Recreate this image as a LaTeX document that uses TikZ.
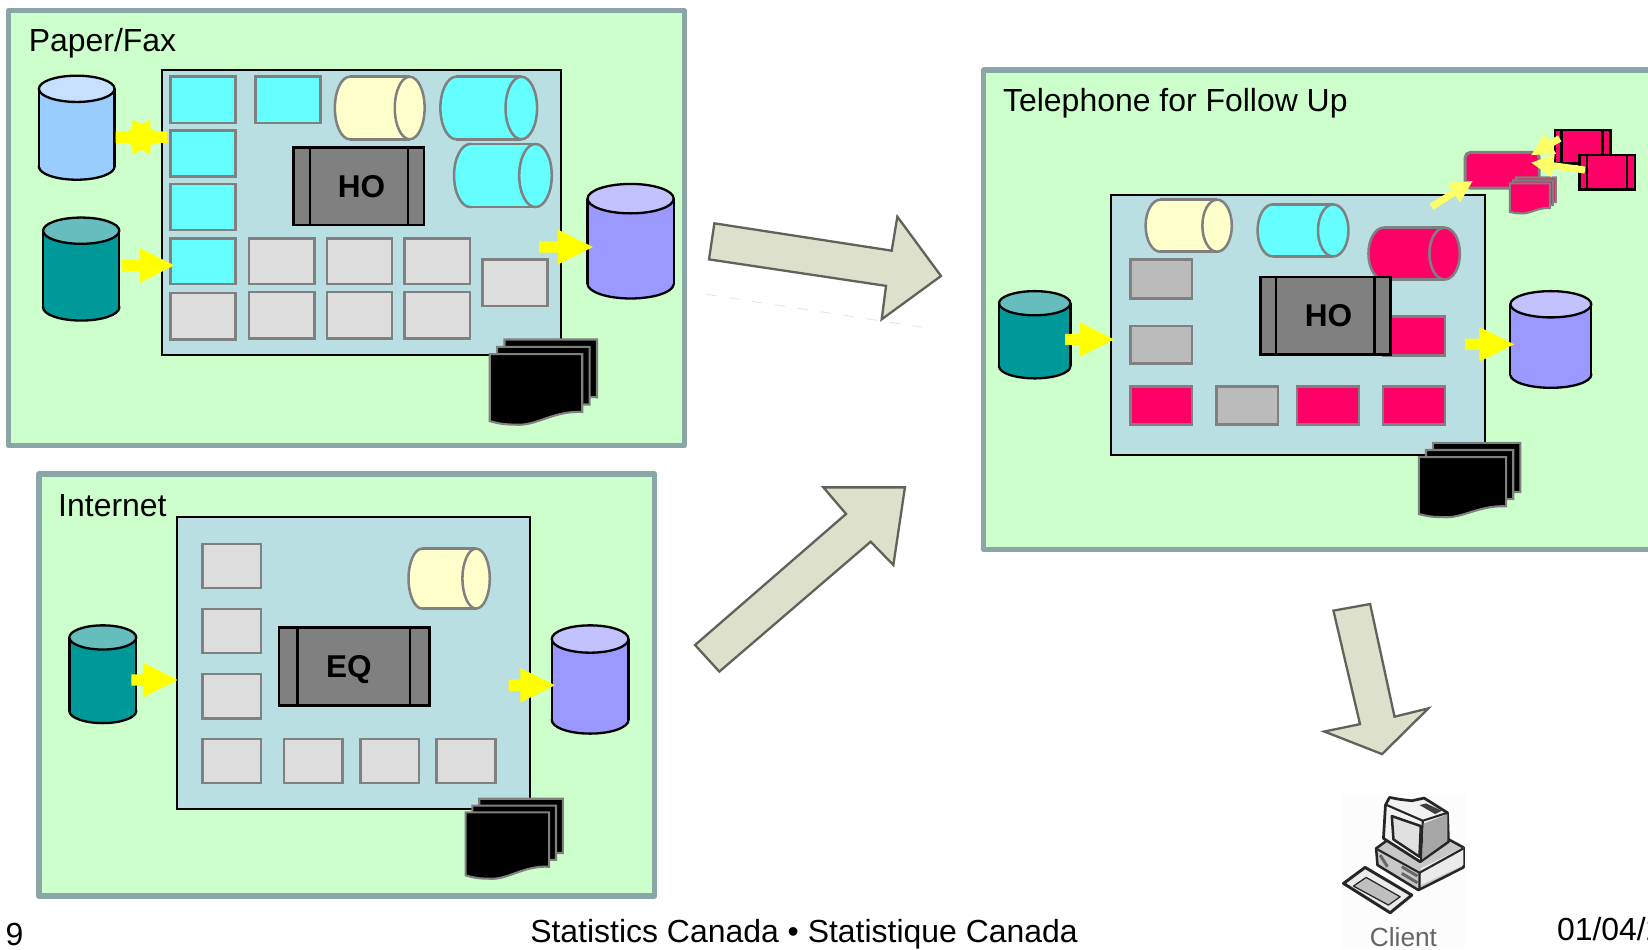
\documentclass[tikz,border=0pt]{standalone}
\usepackage{fontspec}
\setmainfont{Liberation Sans}
\usetikzlibrary{calc,fit}
\definecolor{panelfill}{HTML}{CCFFCC}
\definecolor{panelline}{HTML}{8AA6A6}
\definecolor{innerfill}{HTML}{B9DFE2}
\definecolor{sqline}{HTML}{808080}
\definecolor{lgray}{HTML}{DDDDDD}
\definecolor{mgray}{HTML}{BBBBBB}
\definecolor{cyanfill}{HTML}{66FFFF}
\definecolor{creamfill}{HTML}{FFFFCC}
\definecolor{pinkfill}{HTML}{FF0066}
\definecolor{blue1}{HTML}{99CCFF}
\definecolor{blue2}{HTML}{C6E0FF}
\definecolor{teal1}{HTML}{009999}
\definecolor{teal2}{HTML}{66BDBD}
\definecolor{purp1}{HTML}{9999FF}
\definecolor{purp2}{HTML}{C2C2FF}
\definecolor{tanfill}{HTML}{DDE1CB}
\definecolor{tanline}{HTML}{5F645A}
\definecolor{softyellow}{HTML}{FFFF66}
\definecolor{pureyellow}{HTML}{FFFF00}
\tikzset{
  panelbox/.style={fill=panelfill,draw=panelline,line width=2.5pt,line join=round,inner sep=0pt},
  innerbox/.style={fill=innerfill,draw=black,line width=1pt,inner sep=0pt},
  sqbase/.style={draw=sqline,line width=1.2pt,inner sep=0pt},
  graysq/.style={sqbase,fill=lgray},
  midsq/.style={sqbase,fill=mgray},
  cyansq/.style={sqbase,fill=cyanfill},
  pinksq/.style={sqbase,fill=pinkfill},
  procbox/.style={fill=sqline,draw=black,line width=1.3pt,inner sep=0pt},
  smallproc/.style={fill=pinkfill,draw=black,line width=1.3pt,inner sep=0pt},
  boxlabel/.style={font=\fontsize{15}{18}\bfseries\selectfont,inner sep=0pt},
  txt/.style={font=\fontsize{15.2}{18}\selectfont,inner sep=0pt,text=black},
  bigarrow/.style={fill=tanfill,draw=tanline,line width=1.1pt,line join=miter},
  docsheet/.style={fill=black,draw=sqline,line width=1pt},
  pinksheet/.style={fill=pinkfill,draw=sqline,line width=1pt},
  iconline/.style={draw=black!85,line width=1pt,line join=round},
}
% name x1 y1 x2 y2 style
\newcommand\sq[6]{\node[#6,fit={(#2,#3)(#4,#5)}] (#1) {};}
% name x1 y1 x2 y2 ellipse-height body top
\newcommand\vcyl[8]{%
  \pgfmathsetmacro\myCx{(#2+#4)/2}\pgfmathsetmacro\myRx{(#4-#2)/2}\pgfmathsetmacro\myRy{#6/2}%
  \pgfmathsetmacro\myTop{#3+\myRy}\pgfmathsetmacro\myBot{#5-\myRy}%
  \draw[fill=#7,line width=1.1pt] (\myCx,\myBot) ellipse [x radius=\myRx,y radius=\myRy];
  \fill[#7] (#2,\myTop) rectangle (#4,\myBot);
  \draw[line width=1.1pt] (#2,\myTop) -- (#2,\myBot) (#4,\myTop) -- (#4,\myBot);
  \draw[fill=#8,line width=1.1pt] (\myCx,\myTop) ellipse [x radius=\myRx,y radius=\myRy];
  \node[fit={(#2,#3)(#4,#5)},inner sep=0pt] (#1) {};}
% name x1 y1 x2 y2 ellipse-rx fill
\newcommand\hcyl[7]{%
  \pgfmathsetmacro\myCy{(#3+#5)/2}\pgfmathsetmacro\myRy{(#5-#3)/2}%
  \pgfmathsetmacro\myL{#2+#6}\pgfmathsetmacro\myR{#4-#6}%
  \draw[fill=#7,draw=sqline,line width=1.2pt] (\myL,\myCy) ellipse [x radius=#6,y radius=\myRy];
  \fill[#7] (\myL,#3) rectangle (\myR,#5);
  \draw[draw=sqline,line width=1.2pt] (\myL,#3) -- (\myR,#3) (\myL,#5) -- (\myR,#5);
  \draw[fill=#7,draw=sqline,line width=1.2pt] (\myR,\myCy) ellipse [x radius=#6,y radius=\myRy];
  \node[fit={(#2,#3)(#4,#5)},inner sep=0pt] (#1) {};}
% x1 y1 width height style
\newcommand\docsh[5]{%
  \begin{scope}[shift={(#1,#2)},x=#3*0.5pt,y=#4*-0.5pt]
    \draw[#5] (0,0) -- (1,0) -- (1,.82) .. controls (.68,.80) and (.5,1.03) .. (.27,1.0) .. controls (.15,1.0) and (.08,.98) .. (0,.95) -- cycle;
  \end{scope}}
% x y w h dx style
\newcommand\docstack[6]{%
  \pgfmathsetmacro\myXb{#1+2*#5}\pgfmathsetmacro\myYb{#2-2*#5}%
  \pgfmathsetmacro\myXm{#1+#5}\pgfmathsetmacro\myYm{#2-#5}%
  \docsh{\myXb}{\myYb}{#3}{#4}{#6}
  \docsh{\myXm}{\myYm}{#3}{#4}{#6}
  \docsh{#1}{#2}{#3}{#4}{#6}}
% from to shaft-half head-half head-len colour
\newcommand\blockarrow[6]{%
  \coordinate (ab) at ($(#2)!#5*0.5pt!(#1)$);
  \fill[#6] ($(#1)!#3*0.5pt!90:(#2)$) -- ($(ab)!#3*0.5pt!-90:(#1)$) -- ($(ab)!#4*0.5pt!-90:(#1)$) -- (#2)
    -- ($(ab)!#4*0.5pt!90:(#1)$) -- ($(ab)!#3*0.5pt!90:(#1)$) -- ($(#1)!#3*0.5pt!-90:(#2)$) -- cycle;}
\newcommand\yarrow[4]{%
  \coordinate (#1s) at (#2,#4); \coordinate (#1t) at (#3,#4);
  \blockarrow{#1s}{#1t}{5.4}{16.5}{33}{pureyellow}}
\begin{document}
\begin{tikzpicture}[x=0.5pt,y=-0.5pt]
\useasboundingbox (0,0) rectangle (1568,903);
\fill[white] (0,0) rectangle (1568,903);

%%%% Paper/Fax
\sq{pfpanel}{8}{10}{651}{424}{panelbox}
\node[txt,anchor=west] (pftitle) at (27,41) {Paper/Fax};
\sq{pfinner}{154}{67}{534}{338}{innerbox}
\sq{c1}{162}{73}{224}{117}{cyansq}
\sq{c2}{162}{124}{224}{168}{cyansq}
\sq{c3}{162}{175}{224}{219}{cyansq}
\sq{c4}{162}{227}{224}{270}{cyansq}
\sq{c5}{243}{73}{305}{117}{cyansq}
\hcyl{pfy}{318.6}{73}{404}{132.5}{14.2}{creamfill}
\hcyl{pfc1}{419}{73}{511}{132.5}{15}{cyanfill}
\hcyl{pfc2}{432}{137}{525}{197}{15.5}{cyanfill}
\sq{pfho}{279.5}{140.5}{403.5}{214}{procbox}
\draw[line width=1.2pt] (295,140.5) -- (295,214) (388,140.5) -- (388,214);
\node[boxlabel] (pfholab) at (344,178) {HO};
\sq{g1}{237}{227}{299}{270}{graysq}
\sq{g2}{311}{227}{373}{270}{graysq}
\sq{g3}{385}{227}{447}{270}{graysq}
\sq{g4}{162}{279}{224}{323}{graysq}
\sq{g5}{237}{278}{299}{322}{graysq}
\sq{g6}{311}{278}{373}{322}{graysq}
\sq{g7}{385}{278}{447}{322}{graysq}
\sq{g8}{459}{247}{521}{291}{graysq}
\docstack{466}{337}{88}{67}{7}{docsheet}
\vcyl{pfblue}{37}{72}{109}{171}{25}{blue1}{blue2}
\vcyl{pfteal}{41}{207}{113.5}{305}{25}{teal1}{teal2}
\vcyl{pfpurp}{559}{175}{641}{284}{28}{purp1}{purp2}
\coordinate (dl) at (110,130.5); \coordinate (dr) at (159,130.5);
\blockarrow{dl}{dr}{5.4}{16.5}{33}{pureyellow}
\blockarrow{dr}{dl}{5.4}{16.5}{33}{pureyellow}
\yarrow{pfa}{116}{166}{252.5}
\yarrow{pfb}{513}{564}{235}

%%%% Internet
\sq{inpanel}{37}{451}{623}{852.5}{panelbox}
\node[txt,anchor=west] (intitle) at (55,481) {Internet};
\sq{ininner}{168}{492}{504}{770}{innerbox}
\sq{ig1}{192.5}{517.6}{248.5}{559.5}{graysq}
\sq{ig2}{192.5}{579.5}{248.5}{621.3}{graysq}
\sq{ig3}{192.5}{641.3}{248.5}{683.5}{graysq}
\sq{ig4}{192.5}{703}{248.5}{745}{graysq}
\sq{ig5}{270}{703}{326}{745}{graysq}
\sq{ig6}{343}{703}{398.5}{745}{graysq}
\sq{ig7}{415.5}{703}{471.5}{745}{graysq}
\hcyl{iny}{388.7}{522}{466}{579}{13}{creamfill}
\sq{ineq}{265.5}{597}{408.6}{671}{procbox}
\draw[line width=1.2pt] (283,597) -- (283,671) (390,597) -- (390,671);
\node[boxlabel] (ineqlab) at (332,637) {EQ};
\docstack{443}{773}{79.5}{63}{6.5}{docsheet}
\vcyl{inteal}{66}{595}{129.6}{688}{23}{teal1}{teal2}
\vcyl{inpurp}{525}{595}{598}{698}{26}{purp1}{purp2}
\yarrow{ina}{125}{169}{647}
\yarrow{inb}{484}{528}{652}

%%%% Telephone
\fill[panelfill] (936,66.6) rectangle (1568,523);
\draw[panelline,line width=2.5pt,line join=round] (1568,66.6) -- (936,66.6) -- (936,523) -- (1568,523);
\node[fit={(936,66.6)(1568,523)},inner sep=0pt] (telpanel) {};
\node[txt,anchor=west] (teltitle) at (954,98) {Telephone for Follow Up};
\sq{telinner}{1056.7}{185.5}{1412.5}{433}{innerbox}
\hcyl{tely}{1090}{190}{1172}{239.5}{14}{creamfill}
\hcyl{telc}{1196.5}{194.5}{1283}{244}{14.5}{cyanfill}
\hcyl{telp}{1302}{216.6}{1389}{266}{14.5}{pinkfill}
\sq{tg1}{1075.6}{247}{1134}{284}{midsq}
\sq{tg2}{1075.6}{310}{1134}{346}{midsq}
\sq{tp1}{1316}{301}{1375}{338}{pinksq}
\sq{tp2}{1075.6}{367.6}{1134}{404}{pinksq}
\sq{tg3}{1157.5}{367.6}{1216}{404}{midsq}
\sq{tp3}{1234}{367.6}{1293}{404}{pinksq}
\sq{tp4}{1316}{367.6}{1375}{404}{pinksq}
\sq{telho}{1199}{263.5}{1323}{337}{procbox}
\draw[line width=1.2pt] (1214,263.5) -- (1214,337) (1308,263.5) -- (1308,337);
\node[boxlabel] (telholab) at (1264,300) {HO};
\docstack{1350}{435}{83}{57}{6.8}{docsheet}
\vcyl{telteal}{950.5}{277}{1018.4}{360}{23}{teal1}{teal2}
\vcyl{telpurp}{1437}{277}{1514}{369}{25}{purp1}{purp2}
\yarrow{tela}{1013.5}{1060}{323}
\yarrow{telb}{1394}{1440.5}{327.6}

%% top-right group
\node[fill=pinkfill,draw=sqline,line width=1.4pt,rounded corners=2.5pt,inner sep=0pt,fit={(1394,145)(1464.5,179)}] (telrnd) {};
\docstack{1436.6}{174.5}{38}{28.5}{2.8}{pinksheet}
\sq{sp1}{1479.5}{123.7}{1532}{155.4}{smallproc}
\draw[line width=1.3pt] (1486,123.7) -- (1486,155.4) (1525,123.7) -- (1525,155.4);
\sq{sp2}{1503}{147.5}{1555.6}{180}{smallproc}
\draw[line width=1.3pt] (1510,147.5) -- (1510,180) (1548,147.5) -- (1548,180);
\coordinate (las) at (1362,196.7); \coordinate (lat) at (1401,172.3);
\blockarrow{las}{lat}{3.3}{11}{21}{softyellow}
\coordinate (lbs) at (1484,131.7); \coordinate (lbt) at (1457,147.5);
\blockarrow{lbs}{lbt}{3.3}{11}{21}{softyellow}
\coordinate (lcs) at (1508,161.8); \coordinate (lct) at (1457,154.8);
\blockarrow{lcs}{lct}{3.3}{11}{21}{softyellow}

%%%% Big arrows
\draw[black!10,line width=0.4pt,dash pattern=on 5pt off 6pt] (672,280) -- (878.5,311.5);
\draw[bigarrow] (679.7,212.5) -- (848.4,238.5) -- (853.8,206.2) -- (895.3,262.6) -- (838.9,303.8) -- (843,272) -- (674.6,246.8) -- cycle;
\draw[bigarrow] (661.3,613.7) -- (805,489) -- (783.4,463.7) -- (861,463.7) -- (850,537.6) -- (828.4,515.4) -- (684.4,639) -- cycle;
\draw[bigarrow] (1268.7,581) -- (1303.6,574.7) -- (1326.8,681.9) -- (1359,674) -- (1315,717.5) -- (1260,696) -- (1294,689) -- cycle;

%%%% Client icon (coordinates of the icon crop)
\begin{scope}[shift={(1237,561.4)},x=0.1586pt,y=-0.1586pt]
  \fill[black!1] (125,610) rectangle (495,1075);
  % base
  \draw[iconline,line width=1.2pt,fill=black!22] (228,775) -- (262,750) -- (440,745) -- (490,772) -- (490,832) -- (355,900) -- (232,825) -- cycle;
  \fill[black!8] (362,835) -- (490,772) -- (490,825) -- (362,885) -- cycle;
  \draw[iconline] (232,778) -- (358,848) -- (490,775) (358,848) -- (358,898);
  \draw[iconline,line width=1.4pt,black!60] (240,795) -- (262,830) (305,830) -- (352,858) (305,850) -- (352,878);
  % monitor
  \draw[iconline,line width=1.3pt,fill=black!5] (256,645) -- (268,622) -- (300,628) -- (335,632) -- (372,624) -- (442,668) -- (445,755) -- (360,815) -- (250,745) -- cycle;
  \fill[black!75] (358,645) -- (378,640) -- (425,662) -- (405,672) -- cycle;
  \fill[black!35] (372,700) -- (442,672) -- (442,752) -- (365,808) -- cycle;
  \draw[iconline,line width=1.2pt,fill=black!12] (275,678) -- (362,708) -- (358,800) -- (280,748) -- cycle;
  \draw[iconline] (260,645) -- (368,692) -- (442,668) (368,692) -- (362,812);
  % keyboard
  \draw[iconline,line width=1.4pt,fill=black!8] (130,880) -- (195,832) -- (335,915) -- (270,968) -- cycle;
  \draw[iconline,line width=0.6pt,fill=black!25] (160,888) -- (198,862) -- (300,920) -- (265,945) -- cycle;
  \node[inner sep=0pt,text=black!60,font=\fontsize{12.5}{14}\selectfont] (clientlab) at (310,1040) {Client};
\end{scope}

%%%% Footer
\node[txt,anchor=west] (pagenum) at (5,889) {9};
\node[txt] (foot) at (765,889) {Statistics Canada • Statistique Canada};
\node[txt,anchor=west] (footdate) at (1481,884) {01/04/2};
\end{tikzpicture}
\end{document}
